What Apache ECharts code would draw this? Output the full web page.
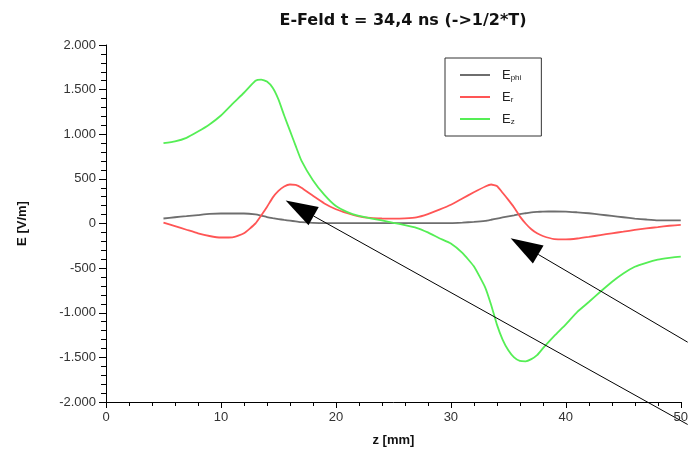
<!DOCTYPE html>
<html>
<head>
<meta charset="utf-8">
<script src="https://cdn.jsdelivr.net/npm/echarts@6/dist/echarts.min.js"></script>
<style>
html,body{margin:0;padding:0;background:#fff;}
#chart{width:691px;height:454px;}
</style>
</head>
<body>
<div id="chart"></div>
<script>
// z positions [mm]
var zValues = [5,6,7,8,9,10,11,12,13,13.5,14,14.5,15,15.5,16,16.5,17,18,19,20,21,22,23,24,25,26,27,28,29,30,31,32,33,33.5,34,34.5,35,35.5,36,36.5,37,37.5,38,39,40,41,42,43,44,45,46,47,48,49,50];
// E_phi [V/m]
var ePhi = [56,70,82,95,108,112,112,112,102,88,72,60,50,40,32,24,15,8,5,5,5,5,5,5,5,5,5,5,5,5,10,18,30,42,55,68,80,92,105,115,125,130,133,135,134,125,115,100,85,70,55,45,36,34,34];
// E_r [V/m]
var eR = [10,-30,-70,-110,-140,-157,-155,-110,0,90,185,290,365,415,437,432,400,310,225,160,115,80,62,56,55,58,68,105,155,210,280,350,415,437,420,345,265,180,80,0,-65,-110,-140,-175,-178,-168,-150,-130,-110,-92,-72,-55,-40,-25,-15];
// E_z [V/m]
var eZ = [900,920,960,1030,1110,1210,1340,1465,1600,1612,1590,1520,1390,1210,1040,870,705,485,320,195,128,85,58,34,8,-18,-48,-100,-165,-225,-330,-480,-720,-910,-1130,-1300,-1420,-1500,-1540,-1545,-1520,-1475,-1400,-1260,-1130,-990,-880,-765,-655,-560,-485,-440,-405,-385,-370];
var seriesNames = ['Ephi','Er','Ez'];
var legendLabels = {Ephi:'{m|E}{s|phi}', Er:'{m|E}{s|r}', Ez:'{m|E}{s|z}'};
// annotation arrows (data coordinates): tip and tail
var arrowTips = [[15.63, 258], [35.2, -165]];
var arrowTails = [[50.6, -2252], [50.6, -1330]];

function pairs(vals){ return zValues.map(function(z,i){ return [z, vals[i]]; }); }
function fmt(v){
  var s = Math.abs(v).toString();
  if (Math.abs(v) >= 1000) s = s.slice(0, s.length-3) + '.' + s.slice(s.length-3);
  return (v < 0 ? '-' : '') + s;
}
var FONT = 'Liberation Sans';
var chart = echarts.init(document.getElementById('chart'));
var option = {
  animation:false,
  backgroundColor:'#fff',
  textStyle:{fontFamily:FONT},
  title:{text:'E-Feld t = 34,4 ns (->1/2*T)', left:398, textAlign:'center', top:8,
    textStyle:{fontFamily:'DejaVu Sans', fontSize:16, fontWeight:'bold', color:'#111'}},
  grid:{left:106, right:7, top:45, bottom:52, containLabel:false},
  legend:{
    orient:'vertical', left:445, top:58, icon:'rect', itemWidth:30, itemHeight:2, itemGap:8,
    padding:[10,20,10,15], borderColor:'#333', borderWidth:1, backgroundColor:'#fff',
    data:seriesNames,
    formatter:function(n){ return legendLabels[n]; },
    textStyle:{fontFamily:FONT, padding:[0,0,0,7], rich:{
      m:{fontSize:13, color:'#222', fontFamily:FONT, lineHeight:14},
      s:{fontSize:8, color:'#222', fontFamily:FONT, lineHeight:14, padding:[6,0,0,0]}
    }}
  },
  xAxis:{type:'value', min:0, max:50, interval:10,
    name:'z [mm]', nameLocation:'middle', nameGap:32,
    nameTextStyle:{fontFamily:FONT, fontSize:13, fontWeight:'bold', color:'#111'},
    axisLine:{show:true, onZero:false, lineStyle:{color:'#000', width:1}},
    axisTick:{show:true, length:6, lineStyle:{color:'#000'}},
    minorTick:{show:true, splitNumber:5, length:4, lineStyle:{color:'#000'}},
    splitLine:{show:false},
    axisLabel:{fontFamily:FONT, fontSize:13, color:'#333', margin:9}
  },
  yAxis:{type:'value', min:-2000, max:2000, interval:500,
    name:'E [V/m]', nameLocation:'middle', nameGap:77, nameRotate:90,
    nameTextStyle:{fontFamily:FONT, fontSize:13, fontWeight:'bold', color:'#111'},
    axisLine:{show:true, onZero:false, lineStyle:{color:'#000', width:1}},
    axisTick:{show:true, length:7, lineStyle:{color:'#000'}},
    minorTick:{show:true, splitNumber:5, length:5, lineStyle:{color:'#000'}},
    splitLine:{show:false},
    axisLabel:{fontFamily:FONT, fontSize:13, color:'#333', margin:10, formatter:fmt}
  },
  series:[
    {name:'Ephi', type:'line', data:pairs(ePhi), showSymbol:false, smooth:0.15, color:'#6e6e6e', lineStyle:{width:1.8}},
    {name:'Er', type:'line', data:pairs(eR), showSymbol:false, smooth:0.15, color:'#ff5555', lineStyle:{width:1.8}},
    {name:'Ez', type:'line', data:pairs(eZ), showSymbol:false, smooth:0.15, color:'#55ee55', lineStyle:{width:1.8}}
  ]
};
chart.setOption(option);

var els = [];
for (var i=0;i<arrowTips.length;i++){
  var t = chart.convertToPixel({gridIndex:0}, arrowTips[i]);
  var e = chart.convertToPixel({gridIndex:0}, arrowTails[i]);
  var dx = e[0]-t[0], dy = e[1]-t[1], L = Math.sqrt(dx*dx+dy*dy);
  var ux = dx/L, uy = dy/L, nx = -uy, ny = ux;
  var hl = 32, hw = 10.5;
  var bx = t[0]+ux*hl, by = t[1]+uy*hl;
  els.push({type:'line', shape:{x1:bx, y1:by, x2:e[0], y2:e[1]}, style:{stroke:'#000', lineWidth:1}, z:100});
  els.push({type:'polygon', shape:{points:[[t[0],t[1]],[bx+nx*hw,by+ny*hw],[bx-nx*hw,by-ny*hw]]}, style:{fill:'#000'}, z:100});
}
chart.setOption({graphic:{elements:els}});
</script>
</body>
</html>
